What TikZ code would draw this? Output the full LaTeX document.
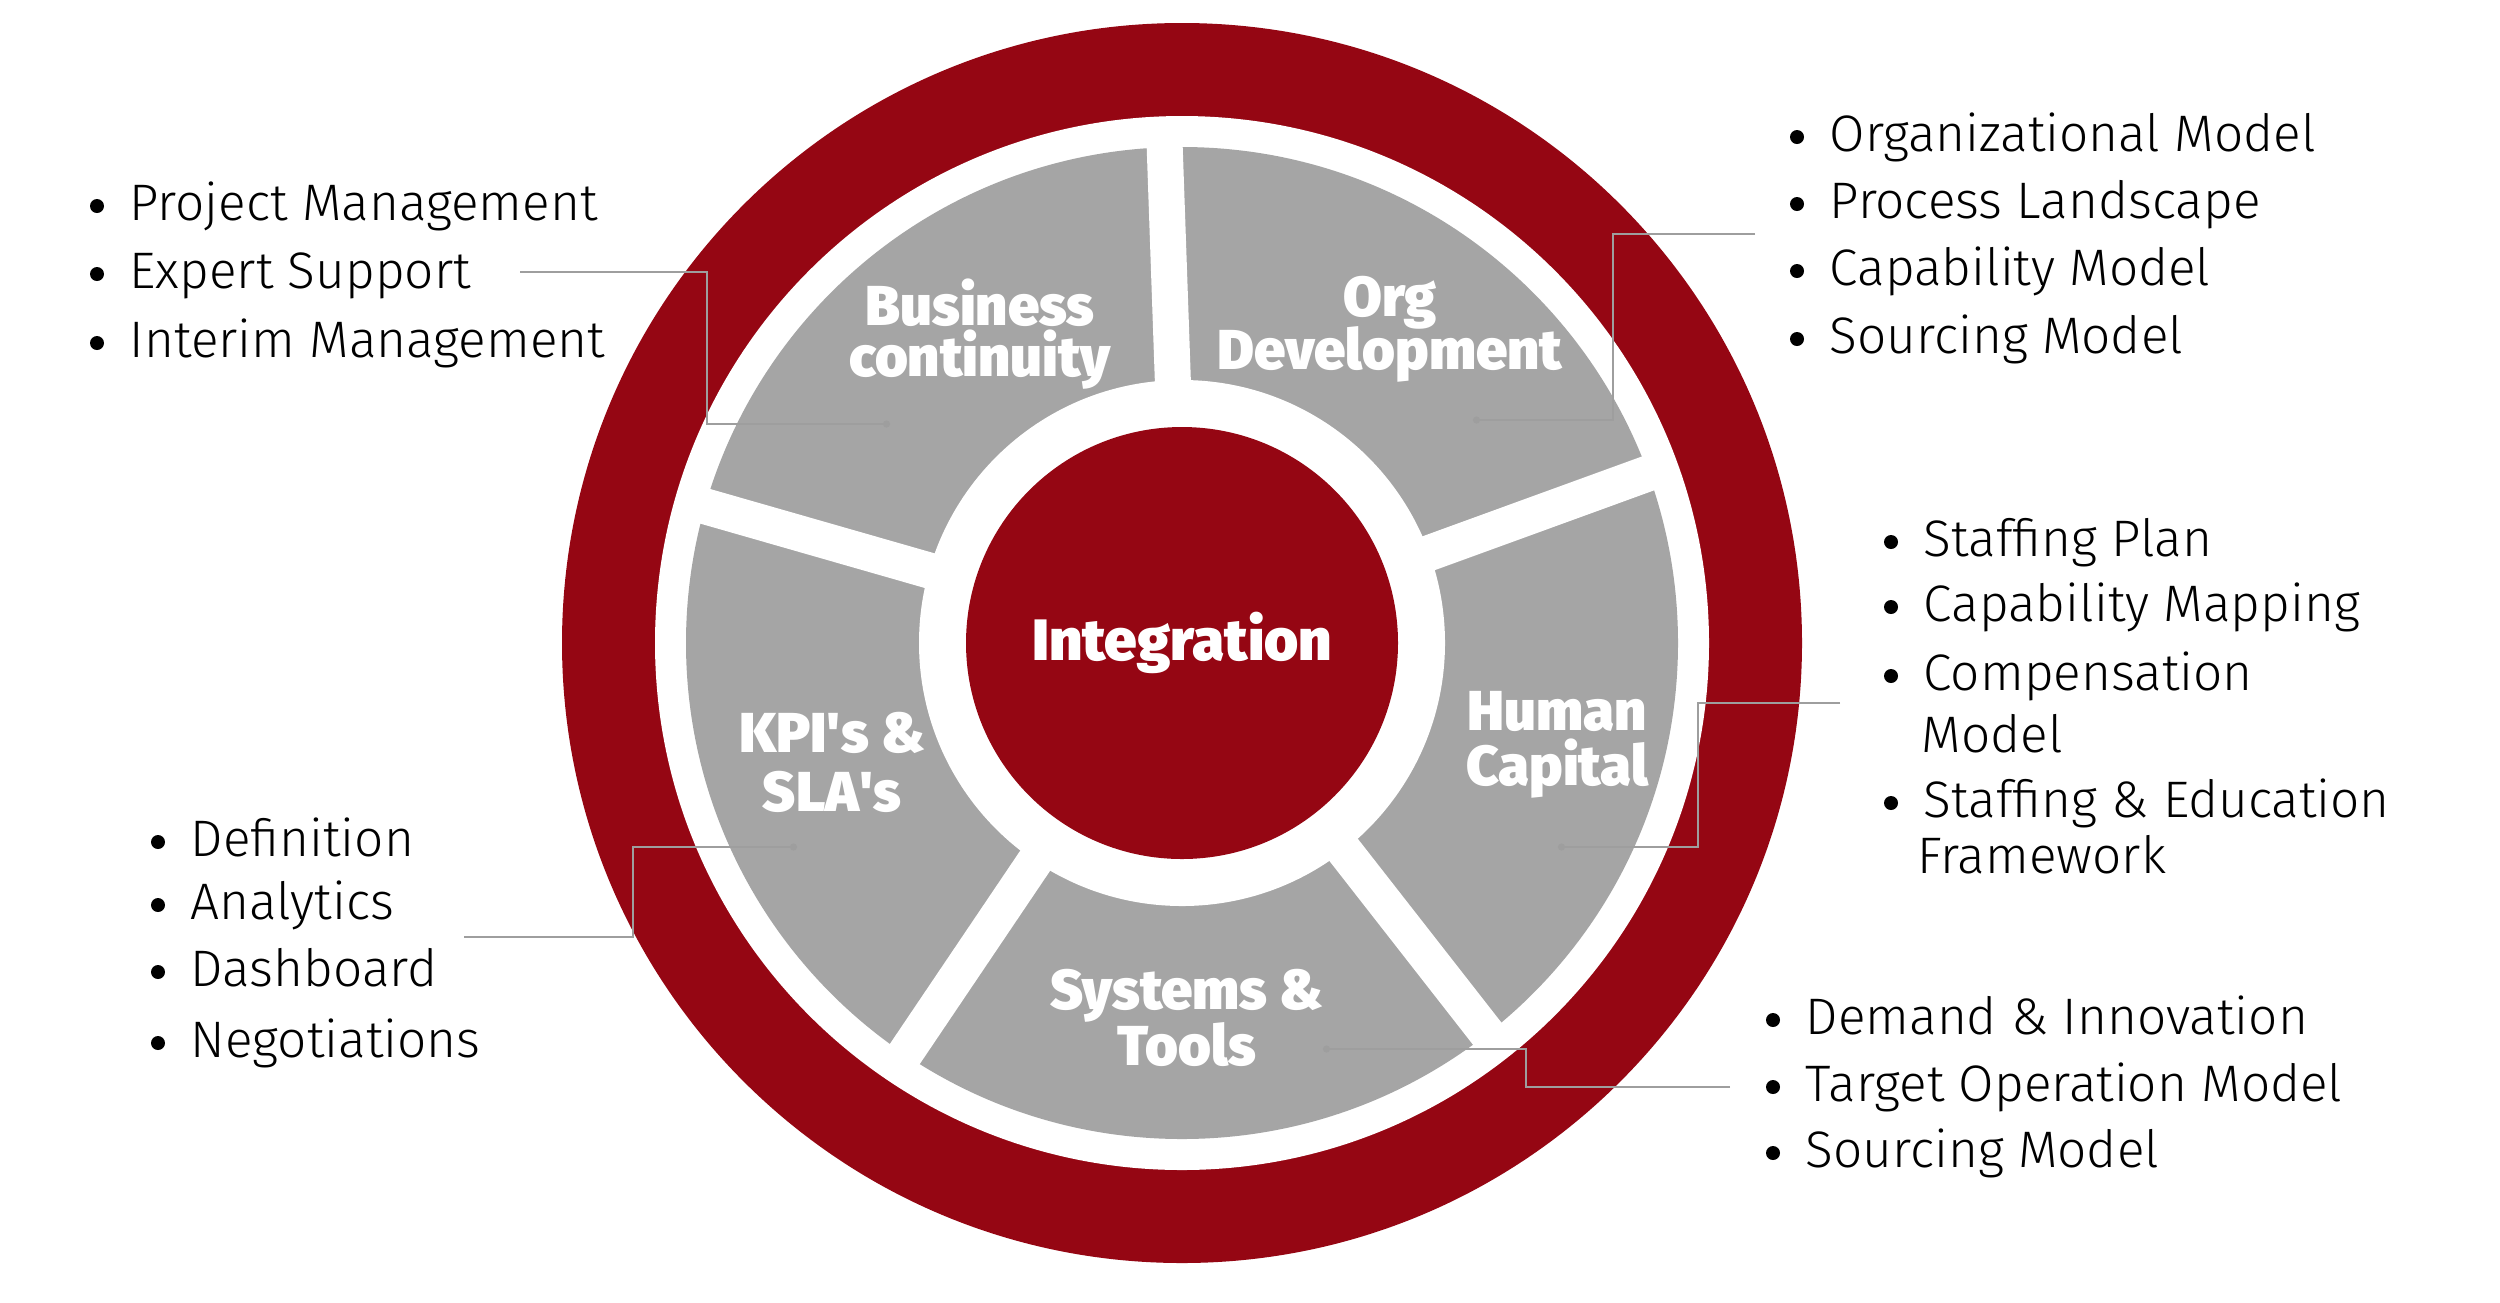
\documentclass[tikz,border=0pt]{standalone}
\usepackage{fontspec}
\setmainfont{Fira Sans}
\newfontfamily\listfont{Fira Sans Light}
\newfontfamily\headfont{Fira Sans Black}
\usetikzlibrary{arrows.meta}
\definecolor{ringred}{RGB}{149,6,19}
\definecolor{segmentgray}{RGB}{165,165,165}
\definecolor{leadergray}{RGB}{158,158,158}
\newcommand{\segfont}[1]{\headfont\fontsize{16}{#1}\selectfont\lineskiplimit=-20pt}
\tikzset{
itemtext/.style={
  anchor=base west,
  inner sep=0pt,
  font=\listfont\fontsize{14.6}{18}\selectfont
},
seglabel/.style={
  align=center,
  inner sep=0pt,
  text=white,
  font=\segfont{15.8}
},
leader/.style={
  draw=leadergray,
  line width=0.6pt,
  -{Circle[length=2pt]}
},
gapline/.style={
  draw=white,
  line width=0.36cm
}
}
% bullet + text, text on the given baseline
\newcommand{\listitem}[4]{%
  \fill (#2,#3-14) circle (7);
  \node[itemtext] (#1) at (#2+32,#3) {#4};
}

\begin{document}
\begin{tikzpicture}[x=0.01cm, y=-0.01cm]
  \useasboundingbox[fill=white] (0,0) rectangle (2500,1302);
  \coordinate (ctr) at (1182,643);

  % Rings
  \fill[ringred] (ctr) circle (620);
  \fill[white] (ctr) circle (527);
  \fill[segmentgray] (ctr) circle (496);
  % Gaps between the five segments
  \foreach \a in {-92,-20,52,124,-164} {
    \draw[gapline] (ctr) -- ++(\a:515);
  }
  \fill[white] (ctr) circle (263);
  \fill[ringred] (ctr) circle (216);

  % Segment labels
  \node[seglabel, font=\headfont\fontsize{16.6}{16}\selectfont] (integ) at (ctr) {Integration};
  \node[seglabel, font=\segfont{14.4}] (bc) at (980,334) {Business\\continuity};
  \node[seglabel, font=\segfont{15.2}] (od) at (1390,329) {Org\\Development};
  \node[seglabel] (hc) at (1557,745) {Human\\Capital};
  \node[seglabel, font=\segfont{16.8}] (kpi) at (832,762) {KPI\textquotesingle s \&\\SLA\textquotesingle s};
  \node[seglabel] (st) at (1187,1018) {Systems \&\\Tools};

  % Business continuity list
  \listitem{bc1}{97}{220}{Project Management}
  \listitem{bc2}{97}{288}{Expert Support}
  \listitem{bc3}{97}{357}{Interim Management}

  % Org Development list
  \listitem{od1}{1797}{151}{Organizational Model}
  \listitem{od2}{1797}{218}{Process Landscape}
  \listitem{od3}{1797}{285}{Capability Model}
  \listitem{od4}{1797}{353}{Sourcing Model}

  % Human Capital list
  \listitem{hc1}{1891}{556}{Staffing Plan}
  \listitem{hc2}{1891}{621}{Capability Mapping}
  \listitem{hc3}{1891}{690}{Compensation}
  \node[itemtext] (hc3b) at (1921,752) {Model};
  \listitem{hc4}{1891}{817}{Staffing \& Education}
  \node[itemtext] (hc4b) at (1917,873) {Framework};

  % KPI list
  \listitem{kpi1}{158}{856}{Definition}
  \listitem{kpi2}{158}{919}{Analytics}
  \listitem{kpi3}{158}{986}{Dashboard}
  \listitem{kpi4}{158}{1057}{Negotiations}

  % Systems & Tools list
  \listitem{st1}{1773}{1034}{Demand \& Innovation}
  \listitem{st2}{1773}{1101}{Target Operation Model}
  \listitem{st3}{1773}{1167}{Sourcing Model}

  % Leader lines
  \coordinate (bc-a) at (520,272);
  \coordinate (bc-k) at (707,272);
  \coordinate (bc-b) at (890,424);
  \draw[leader] (bc-a) -- (bc-k) |- (bc-b);

  \coordinate (od-a) at (1755,234);
  \coordinate (od-k) at (1613,234);
  \coordinate (od-b) at (1473,420);
  \draw[leader] (od-a) -- (od-k) |- (od-b);

  \coordinate (hc-a) at (1840,703);
  \coordinate (hc-k) at (1698,703);
  \coordinate (hc-b) at (1558,847);
  \draw[leader] (hc-a) -- (hc-k) |- (hc-b);

  \coordinate (kpi-a) at (464,937);
  \coordinate (kpi-k) at (633,937);
  \coordinate (kpi-b) at (797,847);
  \draw[leader] (kpi-a) -- (kpi-k) |- (kpi-b);

  \coordinate (st-a) at (1730,1087);
  \coordinate (st-k) at (1526,1087);
  \coordinate (st-b) at (1323,1049);
  \draw[leader] (st-a) -- (st-k) |- (st-b);
\end{tikzpicture}
\end{document}
